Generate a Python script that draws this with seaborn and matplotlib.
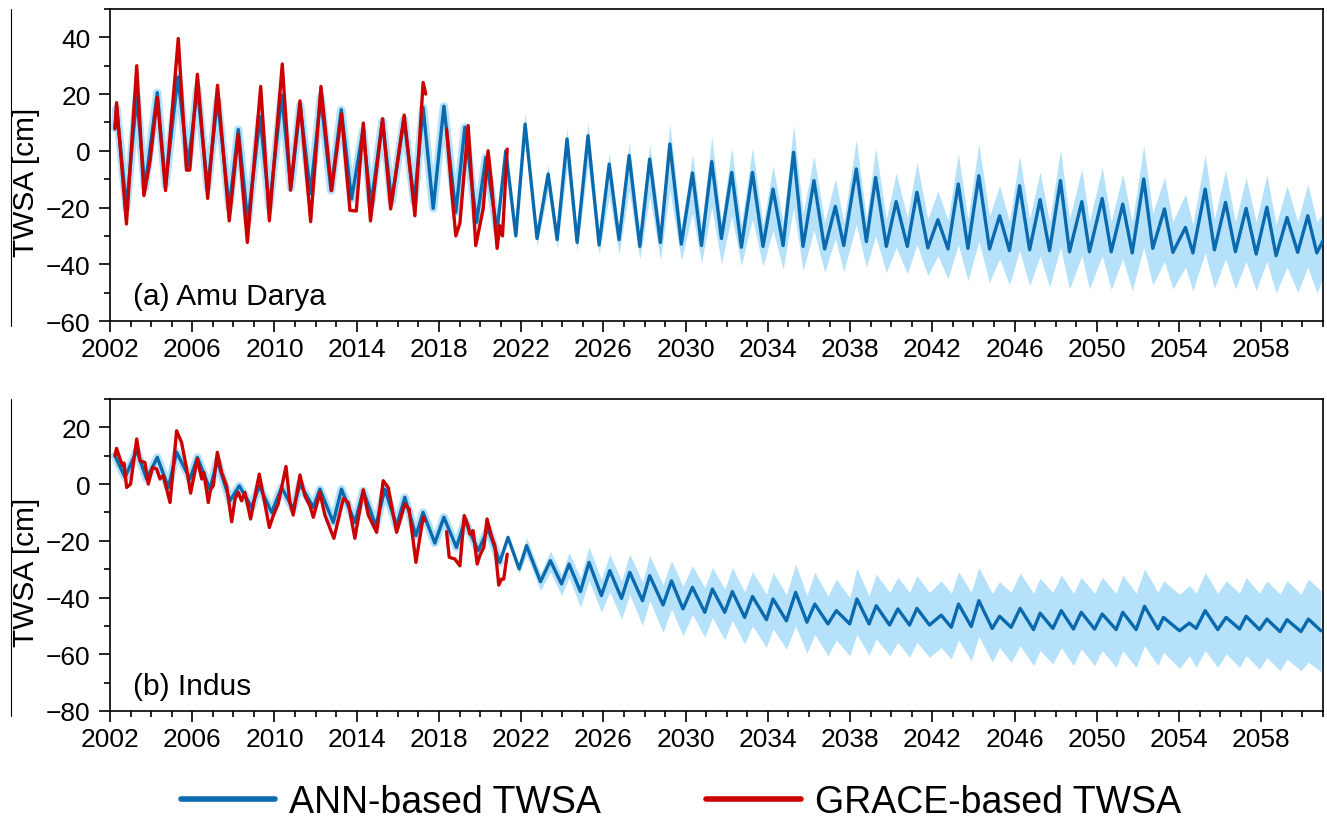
import numpy as np
import pandas as pd
import matplotlib
matplotlib.use("Agg")
import matplotlib.pyplot as plt
import seaborn as sns
from matplotlib.lines import Line2D
from matplotlib.ticker import MultipleLocator

# ---------------- data: (a) Amu Darya ----------------
ann_a_hist_t = [2002.24, 2002.32, 2002.8, 2003.3, 2003.7, 2004.3, 2004.7, 2005.3, 2005.8, 2006.25,
                2006.75, 2007.23, 2007.8, 2008.24, 2008.7, 2009.3, 2009.75, 2010.35, 2010.8, 2011.25,
                2011.75, 2012.25, 2012.75, 2013.25, 2013.75, 2014.3, 2014.7, 2015.25, 2015.7, 2016.3,
                2016.8, 2017.23, 2017.72, 2018.24, 2018.82, 2019.26, 2019.83, 2020.28, 2020.83]
ann_a_hist_v = [8, 15, -20, 19, -13, 20.5, -12, 26, -5, 22,
                -13, 18, -20, 7.5, -25, 12, -20, 19.5, -13, 16,
                -15, 19, -14, 14.5, -17, 7, -19, 10.5, -18, 11,
                -18, 15.3, -20.3, 15.7, -21.7, 8.3, -25.2, -2.3, -28.2]

proj_a_t = [2021.25, 2021.74, 2022.19, 2022.77, 2023.31, 2023.75, 2024.23, 2024.72, 2025.25, 2025.79,
            2026.28, 2026.76, 2027.25, 2027.77, 2028.25, 2028.77, 2029.23, 2029.79, 2030.33, 2030.77,
            2031.27, 2031.74, 2032.24, 2032.71, 2033.25, 2033.76, 2034.25, 2034.74, 2035.25, 2035.71,
            2036.24, 2036.76, 2037.28, 2037.69, 2038.3, 2038.79, 2039.24, 2039.76, 2040.24, 2040.78,
            2041.25, 2041.78, 2042.27, 2042.76, 2043.26, 2043.73, 2044.26, 2044.78, 2045.27, 2045.75,
            2046.24, 2046.73, 2047.24, 2047.7, 2048.23, 2048.67, 2049.27, 2049.64, 2050.26, 2050.7,
            2051.26, 2051.72, 2052.28, 2052.72, 2053.29, 2053.7, 2054.31, 2054.67, 2055.27, 2055.72,
            2056.26, 2056.74, 2057.26, 2057.75, 2058.27, 2058.72, 2059.25, 2059.77, 2060.26, 2060.7,
            2061.0]
proj_a_mean = [0, -30, 9.4, -30.9, -8.2, -31.3, 4.2, -32.3, 5.3, -33.2,
               -4.7, -31.3, -1.7, -33.7, -2.9, -32.3, 2.4, -32.9, -7.8, -33.4,
               -3.8, -30.9, -7.6, -34, -7.6, -33.7, -13.5, -33.4, -0.5, -33.7,
               -10.5, -34.6, -19.6, -33.4, -6.4, -32, -9.4, -33.7, -17.9, -33.7,
               -14.6, -34.2, -24.3, -34.6, -11.7, -34.4, -8.8, -34.6, -22.9, -35.2,
               -12.3, -34.9, -17.2, -35.2, -10.5, -35.6, -17.9, -35.6, -16.8, -35.6,
               -18.8, -36, -9.9, -34.4, -20.5, -35.8, -27, -36, -13.5, -34.9,
               -18.2, -35.6, -20.3, -36.4, -19.9, -37, -23.5, -35.8, -22.9, -36,
               -31.7]
proj_a_hi = [1, -29, 13.6, -29, -4.7, -29, 8.3, -29.5, 10, -29.5,
             -0.8, -28, 3, -29, 2.4, -27, 9.4, -27, -1.1, -26,
             5.1, -25, 1.2, -26, 1.2, -26, -5.2, -25, 8.9, -22,
             -1.7, -25, -9.9, -25, 3.9, -24, 1.2, -24, -7.8, -23.5,
             -4.1, -24, -14.1, -24.5, -1.1, -24, 2.4, -23, -12.3, -25,
             -1.7, -24, -7.4, -25, 0.4, -24, -6.4, -25, -5.8, -25,
             -8.2, -25, 1.8, -22, -9.4, -25, -15.2, -26, -1.5, -24,
             -6.7, -25, -9.4, -25, -8.5, -26, -12.3, -25, -11.7, -25,
             -22]
proj_a_lo = [-1.5, -31, 4, -33.4, -14, -34.4, -6, -35.2, -5, -36.4,
             -16, -36.4, -14, -38.1, -16, -38.4, -14, -38.7, -22, -39.6,
             -20, -39.9, -23, -40.5, -24, -40.7, -28, -41.7, -20, -42.3,
             -28, -42.8, -31, -42.6, -26, -41.1, -30, -42.9, -34, -43.4,
             -33, -44, -37, -45.2, -33, -45.8, -32, -46.4, -38, -47.3,
             -35, -47.6, -37, -48.1, -34, -48.7, -37, -48.7, -37, -48.9,
             -38, -49.3, -34, -47.3, -39, -48.7, -41, -49.3, -36, -48.5,
             -38, -48.7, -39, -49.3, -39, -50.1, -41, -49.9, -41, -50.1,
             -45]

grace_a_t = [2002.24, 2002.32, 2002.8, 2003.3, 2003.65, 2003.95, 2004.3, 2004.7, 2005.32, 2005.72,
             2005.88, 2006.25, 2006.75, 2007.23, 2007.8, 2008.24, 2008.68, 2009.33, 2009.75, 2010.38,
             2010.78, 2011.24, 2011.76, 2012.26, 2012.78, 2013.26, 2013.67, 2013.98, 2014.32, 2014.67,
             2015.26, 2015.65, 2016.31, 2016.83, 2017.23, 2017.36,
             2018.37, 2018.61, 2018.82, 2019.02, 2019.42, 2019.58, 2019.79, 2020.15, 2020.39, 2020.55,
             2020.83, 2020.96, 2021.09, 2021.32]
grace_a_v = [7.7, 17, -25.8, 30, -15.8, -3.5, 18.8, -14, 39.6, -6.8,
             -6.8, 27, -16.8, 23.1, -24.7, 5.9, -32.3, 22.7, -24.7, 30.6,
             -13.9, 17.6, -25, 22.7, -14, 13, -21, -21.2, 9.8, -24.7,
             11.3, -20.5, 12.6, -22.9, 24.1, 20,
             7.7, -13.5, -30, -25.5, 8.9, -8.8, -33.4, -20.5, 0, -11,
             -34.4, -26.4, -30, 0.6]
grace_a_seg = [1] * 36 + [2] * 14

# ---------------- data: (b) Indus ----------------
ann_b_hist_t = [2002.24, 2002.73, 2003.3, 2003.78, 2004.3, 2004.84, 2005.24, 2005.89, 2006.25, 2006.86,
                2007.22, 2007.83, 2008.29, 2008.89, 2009.26, 2009.86, 2010.35, 2010.91, 2011.24, 2011.89,
                2012.21, 2012.86, 2013.26, 2013.91, 2014.32, 2014.93, 2015.37, 2015.94, 2016.34, 2016.88,
                2017.23, 2017.8, 2018.24, 2018.85, 2019.26, 2019.91, 2020.39, 2020.96]
ann_b_hist_v = [10, 2.4, 11.8, 1.8, 9.4, -1.2, 11.2, 1.8, 9.4, -1.8,
                8.2, -5.9, -0.6, -8.2, -0.6, -10, -1.2, -8.8, 0, -8.2,
                -1.8, -13.5, -1.8, -13.5, -2.4, -14.7, -1.8, -14.7, -4.7, -18.2,
                -10, -20.8, -11.7, -22.3, -12.9, -23.5, -15.8, -27.6]

proj_b_t = [2021.36, 2021.9, 2022.26, 2022.94, 2023.42, 2023.96, 2024.33, 2024.88, 2025.3, 2025.9,
            2026.31, 2026.88, 2027.28, 2027.9, 2028.25, 2028.9, 2029.31, 2029.87, 2030.33, 2030.93,
            2031.3, 2031.9, 2032.27, 2032.87, 2033.25, 2033.93, 2034.25, 2034.9, 2035.35, 2035.9,
            2036.28, 2036.92, 2037.33, 2037.98, 2038.33, 2038.92, 2039.27, 2039.92, 2040.32, 2040.89,
            2041.25, 2041.86, 2042.43, 2042.92, 2043.27, 2043.89, 2044.26, 2044.91, 2045.27, 2045.83,
            2046.27, 2046.92, 2047.24, 2047.86, 2048.27, 2048.86, 2049.24, 2049.89, 2050.26, 2050.94,
            2051.26, 2051.91, 2052.32, 2052.97, 2053.24, 2054.02, 2054.5, 2054.83, 2055.27, 2055.88,
            2056.29, 2056.94, 2057.26, 2057.91, 2058.27, 2058.91, 2059.25, 2059.93, 2060.29, 2060.9]
proj_b_mean = [-18.8, -29.9, -21.7, -34.4, -27, -35.2, -28.2, -37.9, -27.6, -39.3,
               -30.5, -40.3, -31.1, -41.1, -32.3, -42.6, -34.1, -44, -36.4, -45.2,
               -37, -45.2, -37.9, -47, -39.6, -47.8, -40.5, -48.2, -38.2, -48.7,
               -42.3, -49.3, -44.6, -49.3, -40.5, -49.3, -42.9, -49.7, -44, -49.7,
               -43.8, -49.7, -46.2, -50.5, -42.3, -50.2, -41.1, -50.9, -46.6, -50.5,
               -43.8, -51.3, -45.5, -50.9, -44.6, -51.1, -45.2, -51.1, -45.8, -51.3,
               -45.2, -51.3, -43.1, -51.1, -47, -51.7, -49, -50.9, -44.6, -51.3,
               -47, -51.1, -46.6, -51.3, -47.6, -52, -47.8, -52, -47.6, -51.7]
proj_b_hi = [-17.5, -28.5, -18.8, -31.5, -23.5, -32, -24.1, -33, -22.3, -33.5,
             -24.7, -34, -24.7, -34.5, -25.2, -35.5, -27, -36, -28.8, -36.5,
             -29.4, -37, -29.4, -38, -30.9, -38.8, -31.1, -39, -28.2, -39.3,
             -31.1, -39.5, -33.5, -40, -29.7, -39.5, -31.7, -38.2, -32.9, -38.2,
             -32.3, -38.2, -34.1, -38.5, -30.9, -38.2, -29.4, -38.5, -34.4, -38.2,
             -31.4, -38.5, -33.2, -38.2, -32, -38.5, -32.9, -38.5, -32.9, -38.5,
             -32, -38.5, -29.9, -38.2, -34.1, -38.8, -35.8, -38.5, -31.1, -38.5,
             -34.1, -38.5, -32.9, -38.5, -34.1, -38.8, -34.1, -38.8, -33.5, -37.6]
proj_b_lo = [-20, -31.5, -25, -37.6, -31, -39.3, -33, -43.5, -34, -45.2,
             -38, -47.6, -39, -49.9, -41, -52.3, -44, -53.5, -46, -54,
             -47, -54.9, -48, -56.4, -50, -57.6, -51, -58.2, -50, -59.6,
             -53, -60.5, -55, -60.5, -53, -60.3, -54.6, -60.5, -55.8, -61.1,
             -55.8, -61.1, -57.6, -61.7, -54.9, -62.3, -53.7, -62.8, -57.6, -62.8,
             -57, -64, -58.7, -63.4, -57.6, -64, -58.1, -64, -58.7, -64.6,
             -58.7, -64.6, -57, -64, -59.3, -65, -60.5, -64.6, -58.7, -64.6,
             -59.9, -64.6, -60.5, -65.2, -61.1, -65.8, -61.7, -65.8, -62.8, -66.1]

grace_b_t = [2002.24, 2002.32, 2002.49, 2002.62, 2002.68, 2002.81, 2003.0, 2003.3, 2003.46, 2003.7,
             2003.86, 2004.07, 2004.27, 2004.43, 2004.59, 2004.92, 2005.24, 2005.48, 2005.73, 2005.92,
             2006.25, 2006.46, 2006.57, 2006.78, 2006.89, 2007.02, 2007.22, 2007.43, 2007.67, 2007.92,
             2008.08, 2008.24, 2008.4, 2008.56, 2008.84, 2009.26, 2009.46, 2009.75, 2009.94, 2010.18,
             2010.56, 2010.75, 2010.91, 2011.24, 2011.48, 2011.72, 2011.89, 2012.21, 2012.45, 2012.89,
             2013.35, 2013.59, 2013.91, 2014.32, 2014.56, 2014.97, 2015.29, 2015.53, 2015.94, 2016.34,
             2016.55, 2016.88, 2017.23, 2017.31,
             2018.37, 2018.5, 2018.77, 2019.02, 2019.23, 2019.42, 2019.5, 2019.66, 2019.86, 2019.99,
             2020.18, 2020.34, 2020.55, 2020.72, 2020.91, 2021.04, 2021.15, 2021.32]
grace_b_v = [10, 12.6, 8.8, 6.5, 7.4, -1.2, 0, 15.9, 8.2, 7.6,
             0, 5.9, 5.3, 1.8, 3, -6.5, 18.8, 14.7, 5.3, -3.2,
             8.8, 1.8, 4.1, -6.5, -1.8, -0.6, 11.2, 4.1, -0.6, -13.3,
             -5.3, -2.9, -5.9, -2.9, -12.3, 3.5, -4.1, -15.3, -11.1, -7,
             6.2, -6.5, -10.9, 3.2, -4.1, -7.6, -11.7, -2.9, -10.9, -19.1,
             -5.1, -6.5, -19.1, -2, -10.9, -17, 1.2, -1.2, -17, -7,
             -8.8, -27.6, -11.7, -12.9,
             -16.8, -25.8, -26.4, -28.8, -11.1, -14.7, -17.6, -16.4, -28.2, -25.2,
             -22.3, -12.3, -18.2, -21.7, -35.6, -33.5, -33.5, -24.7]
grace_b_seg = [1] * 64 + [2] * 18

x_ticks = list(range(2002, 2059, 4))
y_ticks_a = [-60, -40, -20, 0, 20, 40]
y_ticks_b = [-80, -60, -40, -20, 0, 20]
panel_labels = ["(a) Amu Darya", "(b) Indus"]
legend_labels = ["ANN-based TWSA", "GRACE-based TWSA"]

# ---------------- styling ----------------
BLUE = "#0a6aad"
RED = "#cc0000"
BAND = "#b5e2fa"

sns.set_style("ticks")
plt.rcParams["font.family"] = ["Liberation Sans", "DejaVu Sans"]
plt.rcParams["text.color"] = "black"
plt.rcParams["axes.labelcolor"] = "black"
plt.rcParams["xtick.color"] = "black"
plt.rcParams["ytick.color"] = "black"
plt.rcParams["axes.edgecolor"] = "black"

W, H = 1327, 820
fig = plt.figure(figsize=(W / 100, H / 100), dpi=100)
ax_a = fig.add_axes([110 / W, 1 - 322 / H, 1213 / W, 312 / H])
ax_b = fig.add_axes([110 / W, 1 - 712 / H, 1213 / W, 312 / H])


def draw(ax, ht, hv, pt, pm, phi, plo, gt, gv, gseg, ylim, yticks, label):
    ax.fill_between(pt, plo, phi, color=BAND, lw=0, zorder=1)
    hist_df = pd.DataFrame({"t": ht, "v": hv})
    sns.lineplot(data=hist_df, x="t", y="v", ax=ax, color=BAND, lw=6,
                 estimator=None, sort=False, zorder=2)
    ann_df = pd.DataFrame({"t": list(ht) + list(pt), "v": list(hv) + list(pm)})
    sns.lineplot(data=ann_df, x="t", y="v", ax=ax, color=BLUE, lw=2.4,
                 estimator=None, sort=False, zorder=3)
    g_df = pd.DataFrame({"t": gt, "v": gv, "seg": gseg})
    sns.lineplot(data=g_df, x="t", y="v", units="seg", ax=ax, color=RED, lw=2.4,
                 estimator=None, sort=False, zorder=4)
    ax.set_xlim(2002, 2061)
    ax.set_ylim(*ylim)
    ax.set_xticks(x_ticks)
    ax.set_xticklabels([str(x) for x in x_ticks])
    ax.xaxis.set_minor_locator(MultipleLocator(1))
    ax.set_yticks(yticks)
    ax.yaxis.set_minor_locator(MultipleLocator(10))
    ax.set_xlabel("")
    ax.set_ylabel("TWSA [cm]", fontsize=21.5, color="black")
    ax.yaxis.set_label_coords(-0.058, 0.449)
    ax.tick_params(axis="both", which="major", length=8, width=1.2, direction="out",
                   labelsize=19, top=False, right=False, color="black", labelcolor="black")
    ax.tick_params(axis="both", which="minor", length=4, width=1.2, direction="out",
                   top=False, right=False, color="black")
    ax.tick_params(axis="x", which="major", pad=3.5)
    ax.tick_params(axis="y", which="major", pad=6)
    for s in ax.spines.values():
        s.set_visible(True)
        s.set_linewidth(1.2)
        s.set_color("black")
    ax.text(0.019, 0.055, label, transform=ax.transAxes, fontsize=21.5,
            va="baseline", color="black")


draw(ax_a, ann_a_hist_t, ann_a_hist_v, proj_a_t, proj_a_mean, proj_a_hi, proj_a_lo,
     grace_a_t, grace_a_v, grace_a_seg, (-60, 50), y_ticks_a, panel_labels[0])
draw(ax_b, ann_b_hist_t, ann_b_hist_v, proj_b_t, proj_b_mean, proj_b_hi, proj_b_lo,
     grace_b_t, grace_b_v, grace_b_seg, (-80, 30), y_ticks_b, panel_labels[1])

# thin vertical rules at far left (as in the reference)
for y0, y1 in [(10, 327), (400, 717)]:
    fig.add_artist(Line2D([11 / W, 11 / W], [1 - y0 / H, 1 - y1 / H],
                          transform=fig.transFigure, color="black", lw=0.8))

handles = [Line2D([], [], color=BLUE, lw=4), Line2D([], [], color=RED, lw=4)]
leg = fig.legend(handles, legend_labels, loc="center", bbox_to_anchor=(0.513, 0.0207),
                 ncol=2, frameon=False, fontsize=27, handlelength=2.53, handletextpad=0.37,
                 columnspacing=2.8, borderpad=0.0, borderaxespad=0.0)
for t in leg.get_texts():
    t.set_color("black")

fig.savefig("out.png", dpi=100)
